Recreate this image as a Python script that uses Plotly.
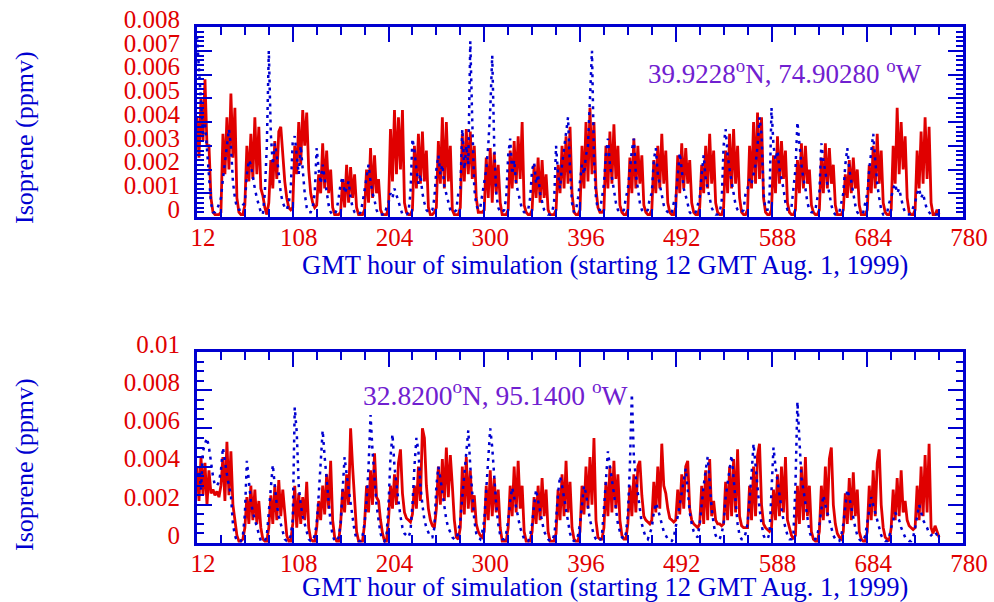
import plotly.graph_objects as go

# hours of simulation (2-hour sampling, 12 .. 756 GMT hour)
hours = list(range(12, 757, 2))

# ---- Station 1: 39.9228N, 74.90280W (ppmv) ----
red_top = [
    .0042, .0025, .0050, .0032, .0058, .0030, .0030, .0008, .0002, .0001, .0001, .0001,
    .0002, .0035, .0018, .0042, .0020, .0052, .0025, .0046, .0008, .0002, .0001, .0001,
    .0005, .0030, .0015, .0035, .0016, .0042, .0018, .0038, .0012, .0009, .0004, .0001,
    .0006, .0024, .0012, .0032, .0016, .0036, .0038, .0026, .0015, .0008, .0004, .0003,
    .0004, .0030, .0018, .0040, .0022, .0045, .0030, .0044, .0020, .0010, .0006, .0004,
    .0005, .0018, .0010, .0031, .0012, .0028, .0010, .0020, .0004, .0001, .0001, .0001,
    .0002, .0016, .0004, .0022, .0006, .0021, .0008, .0018, .0004, .0001, .0001, .0001,
    .0003, .0020, .0006, .0029, .0008, .0026, .0010, .0016, .0003, .0001, .0001, .0001,
    .0004, .0037, .0015, .0045, .0018, .0042, .0020, .0045, .0006, .0002, .0001, .0001,
    .0003, .0030, .0012, .0035, .0014, .0036, .0015, .0028, .0004, .0001, .0001, .0002,
    .0004, .0032, .0014, .0042, .0012, .0040, .0015, .0030, .0003, .0001, .0001, .0001,
    .0004, .0035, .0015, .0037, .0018, .0036, .0016, .0030, .0008, .0002, .0002, .0002,
    .0003, .0025, .0008, .0029, .0006, .0027, .0010, .0022, .0006, .0001, .0001, .0001,
    .0003, .0028, .0012, .0032, .0014, .0034, .0016, .0040, .0005, .0002, .0001, .0001,
    .0003, .0022, .0008, .0025, .0006, .0024, .0008, .0018, .0003, .0001, .0001, .0001,
    .0003, .0022, .0010, .0030, .0012, .0034, .0014, .0038, .0010, .0002, .0001, .0001,
    .0003, .0030, .0012, .0040, .0015, .0046, .0018, .0040, .0012, .0004, .0002, .0002,
    .0003, .0030, .0012, .0036, .0014, .0039, .0016, .0030, .0005, .0002, .0001, .0001,
    .0003, .0025, .0010, .0033, .0012, .0030, .0014, .0026, .0005, .0002, .0001, .0001,
    .0003, .0024, .0010, .0030, .0012, .0035, .0014, .0028, .0006, .0002, .0001, .0001,
    .0004, .0026, .0010, .0031, .0012, .0029, .0014, .0024, .0006, .0002, .0001, .0001,
    .0004, .0022, .0010, .0030, .0012, .0035, .0014, .0028, .0006, .0002, .0001, .0001,
    .0004, .0028, .0010, .0035, .0012, .0037, .0014, .0030, .0008, .0002, .0001, .0001,
    .0003, .0030, .0012, .0040, .0014, .0044, .0016, .0042, .0008, .0002, .0001, .0001,
    .0003, .0026, .0010, .0034, .0014, .0032, .0016, .0028, .0006, .0002, .0001, .0001,
    .0003, .0024, .0010, .0031, .0012, .0030, .0014, .0020, .0005, .0002, .0001, .0001,
    .0003, .0025, .0010, .0031, .0012, .0029, .0014, .0022, .0005, .0001, .0001, .0001,
    .0003, .0018, .0008, .0024, .0010, .0025, .0012, .0020, .0005, .0001, .0001, .0001,
    .0003, .0022, .0010, .0030, .0012, .0035, .0014, .0028, .0006, .0002, .0001, .0001,
    .0003, .0030, .0014, .0046, .0018, .0040, .0020, .0034, .0008, .0002, .0001, .0001,
    .0003, .0028, .0012, .0036, .0014, .0042, .0016, .0038, .0006, .0001, .0001, .0003,
    .0001,
]
blue_top = [
    .0076, .0062, .0048, .0035, .0040, .0028, .0018, .0006, .0002, .0002, .0003, .0006,
    .0008, .0016, .0024, .0030, .0037, .0030, .0015, .0008, .0004, .0003, .0003, .0005,
    .0006, .0018, .0024, .0022, .0016, .0012, .0008, .0005, .0002, .0001, .0010, .0030,
    .0070, .0035, .0022, .0031, .0026, .0018, .0010, .0006, .0004, .0003, .0006, .0012,
    .0032, .0034, .0025, .0018, .0030, .0020, .0010, .0004, .0002, .0002, .0004, .0010,
    .0029, .0020, .0014, .0022, .0016, .0010, .0005, .0002, .0001, .0001, .0003, .0008,
    .0014, .0017, .0010, .0012, .0015, .0008, .0004, .0002, .0001, .0001, .0002, .0006,
    .0012, .0018, .0022, .0015, .0010, .0007, .0003, .0001, .0001, .0001, .0001, .0004,
    .0006, .0010, .0008, .0012, .0009, .0006, .0003, .0001, .0001, .0001, .0002, .0010,
    .0033, .0028, .0020, .0014, .0018, .0010, .0006, .0003, .0002, .0002, .0003, .0008,
    .0020, .0026, .0018, .0022, .0013, .0010, .0006, .0003, .0002, .0002, .0003, .0010,
    .0012, .0037, .0020, .0030, .0022, .0074, .0040, .0012, .0005, .0003, .0004, .0010,
    .0014, .0020, .0030, .0045, .0068, .0030, .0010, .0004, .0002, .0002, .0003, .0008,
    .0026, .0033, .0018, .0024, .0014, .0010, .0006, .0003, .0002, .0002, .0003, .0008,
    .0020, .0023, .0014, .0018, .0010, .0006, .0003, .0002, .0001, .0001, .0002, .0006,
    .0030, .0018, .0012, .0022, .0028, .0035, .0042, .0020, .0006, .0002, .0003, .0008,
    .0015, .0022, .0018, .0026, .0030, .0050, .0070, .0025, .0008, .0003, .0003, .0008,
    .0014, .0026, .0033, .0022, .0016, .0012, .0006, .0003, .0002, .0002, .0003, .0008,
    .0012, .0020, .0028, .0033, .0018, .0012, .0006, .0003, .0002, .0002, .0003, .0008,
    .0010, .0024, .0029, .0018, .0014, .0010, .0005, .0003, .0002, .0001, .0002, .0006,
    .0008, .0016, .0027, .0020, .0012, .0009, .0005, .0002, .0001, .0001, .0002, .0005,
    .0008, .0018, .0026, .0016, .0012, .0008, .0004, .0002, .0001, .0001, .0002, .0006,
    .0030, .0037, .0026, .0020, .0014, .0010, .0005, .0003, .0002, .0002, .0003, .0010,
    .0012, .0016, .0014, .0018, .0022, .0030, .0042, .0035, .0010, .0003, .0003, .0008,
    .0046, .0030, .0024, .0028, .0020, .0016, .0012, .0006, .0003, .0003, .0004, .0012,
    .0020, .0040, .0030, .0022, .0016, .0012, .0006, .0003, .0002, .0002, .0003, .0008,
    .0010, .0031, .0024, .0018, .0014, .0010, .0005, .0002, .0001, .0001, .0002, .0006,
    .0010, .0022, .0029, .0020, .0014, .0010, .0005, .0002, .0001, .0001, .0002, .0006,
    .0010, .0020, .0028, .0035, .0024, .0014, .0008, .0003, .0001, .0001, .0002, .0006,
    .0008, .0012, .0014, .0010, .0012, .0008, .0004, .0002, .0001, .0001, .0002, .0004,
    .0006, .0010, .0012, .0008, .0010, .0006, .0003, .0002, .0001, .0001, .0001, .0001,
    .0001,
]

# ---- Station 2: 32.8200N, 95.1400W (ppmv) ----
red_bot = [
    .0040, .0022, .0045, .0025, .0042, .0020, .0038, .0026, .0028, .0025, .0027, .0024,
    .0030, .0045, .0022, .0053, .0025, .0048, .0020, .0012, .0004, .0001, .0001, .0002,
    .0008, .0024, .0010, .0030, .0012, .0028, .0010, .0022, .0008, .0002, .0001, .0001,
    .0008, .0025, .0010, .0030, .0012, .0033, .0014, .0028, .0014, .0004, .0001, .0001,
    .0010, .0030, .0008, .0026, .0010, .0024, .0012, .0032, .0008, .0002, .0001, .0001,
    .0008, .0022, .0012, .0030, .0015, .0036, .0018, .0043, .0012, .0003, .0001, .0001,
    .0010, .0028, .0016, .0036, .0020, .0060, .0040, .0022, .0006, .0001, .0001, .0001,
    .0010, .0030, .0016, .0038, .0020, .0047, .0024, .0022, .0012, .0005, .0001, .0001,
    .0012, .0030, .0018, .0036, .0020, .0042, .0049, .0026, .0016, .0013, .0012, .0011,
    .0015, .0030, .0018, .0040, .0022, .0060, .0055, .0030, .0018, .0012, .0009, .0008,
    .0018, .0040, .0020, .0044, .0022, .0050, .0024, .0046, .0030, .0012, .0003, .0002,
    .0008, .0040, .0015, .0045, .0018, .0038, .0016, .0025, .0010, .0006, .0004, .0003,
    .0006, .0030, .0012, .0038, .0014, .0034, .0016, .0028, .0008, .0001, .0001, .0001,
    .0008, .0030, .0014, .0040, .0016, .0043, .0018, .0030, .0006, .0001, .0001, .0001,
    .0006, .0024, .0010, .0030, .0012, .0034, .0014, .0028, .0006, .0001, .0001, .0001,
    .0005, .0028, .0012, .0036, .0014, .0043, .0016, .0032, .0008, .0002, .0001, .0001,
    .0006, .0030, .0015, .0040, .0018, .0045, .0020, .0055, .0012, .0003, .0002, .0002,
    .0008, .0032, .0014, .0040, .0016, .0043, .0018, .0036, .0012, .0004, .0002, .0002,
    .0010, .0030, .0014, .0036, .0016, .0040, .0043, .0025, .0014, .0012, .0011, .0010,
    .0012, .0032, .0016, .0040, .0018, .0052, .0030, .0026, .0018, .0013, .0012, .0011,
    .0012, .0028, .0015, .0036, .0018, .0040, .0043, .0018, .0012, .0010, .0009, .0008,
    .0010, .0030, .0010, .0038, .0012, .0044, .0014, .0022, .0012, .0010, .0010, .0009,
    .0010, .0032, .0012, .0040, .0014, .0044, .0016, .0049, .0014, .0009, .0008, .0008,
    .0008, .0030, .0012, .0040, .0014, .0046, .0052, .0020, .0010, .0008, .0007, .0006,
    .0008, .0028, .0012, .0036, .0014, .0040, .0016, .0045, .0012, .0008, .0004, .0002,
    .0004, .0030, .0010, .0040, .0012, .0045, .0014, .0030, .0006, .0002, .0001, .0001,
    .0006, .0030, .0012, .0040, .0014, .0044, .0050, .0020, .0010, .0005, .0003, .0002,
    .0006, .0026, .0010, .0034, .0012, .0037, .0014, .0028, .0006, .0002, .0001, .0001,
    .0006, .0030, .0012, .0038, .0014, .0042, .0049, .0020, .0008, .0003, .0002, .0001,
    .0008, .0028, .0012, .0034, .0014, .0038, .0016, .0022, .0012, .0009, .0008, .0007,
    .0008, .0030, .0012, .0040, .0014, .0046, .0016, .0052, .0008, .0005, .0009, .0006,
    .0003,
]
blue_bot = [
    .0035, .0040, .0028, .0048, .0052, .0055, .0050, .0042, .0035, .0030, .0030, .0032,
    .0038, .0050, .0042, .0036, .0030, .0025, .0010, .0004, .0001, .0001, .0001, .0004,
    .0015, .0043, .0032, .0022, .0016, .0012, .0008, .0004, .0001, .0001, .0001, .0004,
    .0015, .0028, .0041, .0030, .0020, .0014, .0010, .0005, .0002, .0001, .0001, .0004,
    .0012, .0071, .0058, .0030, .0020, .0014, .0010, .0006, .0002, .0001, .0001, .0004,
    .0010, .0025, .0042, .0059, .0045, .0032, .0020, .0010, .0004, .0001, .0001, .0003,
    .0010, .0030, .0045, .0036, .0028, .0020, .0012, .0006, .0002, .0001, .0001, .0004,
    .0010, .0022, .0040, .0067, .0048, .0032, .0020, .0012, .0005, .0002, .0001, .0004,
    .0020, .0045, .0057, .0040, .0030, .0022, .0014, .0008, .0005, .0004, .0003, .0006,
    .0020, .0040, .0055, .0048, .0030, .0020, .0012, .0008, .0005, .0003, .0003, .0008,
    .0030, .0040, .0034, .0026, .0018, .0012, .0008, .0005, .0003, .0002, .0002, .0006,
    .0012, .0024, .0036, .0046, .0059, .0040, .0024, .0012, .0005, .0003, .0002, .0006,
    .0012, .0028, .0046, .0060, .0050, .0034, .0020, .0010, .0004, .0002, .0002, .0005,
    .0012, .0022, .0029, .0024, .0018, .0012, .0008, .0005, .0002, .0001, .0001, .0004,
    .0010, .0020, .0028, .0022, .0016, .0010, .0006, .0004, .0002, .0001, .0001, .0004,
    .0012, .0026, .0035, .0030, .0024, .0016, .0010, .0005, .0002, .0001, .0001, .0004,
    .0010, .0022, .0030, .0026, .0018, .0012, .0008, .0004, .0002, .0001, .0001, .0004,
    .0018, .0032, .0048, .0040, .0034, .0026, .0018, .0010, .0006, .0003, .0002, .0005,
    .0015, .0040, .0078, .0045, .0034, .0026, .0016, .0010, .0006, .0003, .0002, .0005,
    .0008, .0016, .0021, .0018, .0014, .0010, .0006, .0004, .0002, .0001, .0001, .0003,
    .0008, .0014, .0020, .0026, .0032, .0039, .0028, .0016, .0010, .0006, .0004, .0003,
    .0010, .0022, .0030, .0038, .0045, .0032, .0018, .0010, .0004, .0002, .0002, .0005,
    .0010, .0024, .0032, .0040, .0046, .0034, .0020, .0010, .0004, .0002, .0002, .0005,
    .0010, .0022, .0036, .0052, .0040, .0030, .0018, .0010, .0004, .0002, .0002, .0005,
    .0030, .0050, .0040, .0032, .0026, .0018, .0012, .0008, .0004, .0002, .0002, .0005,
    .0030, .0074, .0052, .0034, .0028, .0020, .0012, .0006, .0003, .0002, .0002, .0004,
    .0010, .0018, .0025, .0020, .0016, .0012, .0008, .0004, .0002, .0001, .0001, .0004,
    .0010, .0020, .0028, .0024, .0018, .0012, .0008, .0004, .0002, .0001, .0001, .0004,
    .0010, .0018, .0024, .0020, .0016, .0012, .0008, .0004, .0002, .0001, .0001, .0003,
    .0008, .0012, .0016, .0014, .0012, .0008, .0005, .0003, .0002, .0001, .0001, .0003,
    .0008, .0014, .0020, .0016, .0012, .0010, .0008, .0005, .0004, .0005, .0006, .0004,
    .0003,
]

x_ticks = [12, 108, 204, 300, 396, 492, 588, 684, 780]
x_title = "GMT hour of simulation (starting 12 GMT Aug. 1, 1999)"
y_title = "Isoprene (ppmv)"
loc_top = "39.9228<sup>o</sup>N, 74.90280 <sup>o</sup>W"
loc_bot = "32.8200<sup>o</sup>N, 95.1400 <sup>o</sup>W"

RED = "#e00000"
BLUE = "#0000d0"
PURPLE = "#7020d0"
FONT = "Liberation Serif"
W, H = 994, 602

fig = go.Figure()
for ax, r, b in (("", red_top, blue_top), ("2", red_bot, blue_bot)):
    fig.add_trace(go.Scatter(x=hours, y=r, mode="lines", xaxis="x" + ax, yaxis="y" + ax,
                             line=dict(color=RED, width=2.8), showlegend=False))
    fig.add_trace(go.Scatter(x=hours, y=b, mode="lines", xaxis="x" + ax, yaxis="y" + ax,
                             line=dict(color=BLUE, width=2.5, dash="3px,5px"), showlegend=False))

xd = [197 / W, 963 / W]
common_x = dict(domain=xd, range=[12, 780], tickmode="array", tickvals=x_ticks,
                ticks="inside", ticklen=15, tickwidth=2, tickcolor=BLUE,
                showline=True, linewidth=3, linecolor=BLUE, mirror="ticks",
                showgrid=False, zeroline=False, automargin=False,
                minor=dict(dtick=24, tick0=12, ticks="inside", ticklen=8, tickwidth=2, tickcolor=BLUE),
                tickfont=dict(family=FONT, size=25, color=RED), ticklabelshift=6,
                ticklabelstandoff=-4)
common_y = dict(ticks="inside", ticklen=15, tickwidth=2, tickcolor=BLUE,
                showline=True, linewidth=3, linecolor=BLUE, mirror="ticks",
                showgrid=False, zeroline=False, automargin=False,
                tickfont=dict(family=FONT, size=25, color=RED), ticklabelshift=-8,
                ticklabelstandoff=9)

fig.update_layout(
    width=W, height=H, margin=dict(l=0, r=0, t=0, b=0, autoexpand=False),
    paper_bgcolor="white", plot_bgcolor="white",
    xaxis=dict(common_x, anchor="y"),
    yaxis=dict(common_y, domain=[1 - 217 / H, 1 - 27 / H], range=[0, 0.008], dtick=0.001, tick0=0,
               minor=dict(dtick=0.0002, ticks="inside", ticklen=7, tickwidth=2, tickcolor=BLUE),
               anchor="x"),
    xaxis2=dict(common_x, anchor="y2"),
    yaxis2=dict(common_y, domain=[1 - 543 / H, 1 - 352 / H], range=[0, 0.01], dtick=0.002, tick0=0,
                minor=dict(dtick=0.0005, ticks="inside", ticklen=7, tickwidth=2, tickcolor=BLUE),
                anchor="x2"),
)

ann = []
for yc in (265, 587):
    ann.append(dict(text=x_title, x=605 / W, y=1 - yc / H, xref="paper", yref="paper",
                    showarrow=False, xanchor="center", yanchor="middle",
                    font=dict(family=FONT, size=26.5, color=BLUE)))
for yc in (138, 465):
    ann.append(dict(text=y_title, x=24 / W, y=1 - yc / H, xref="paper", yref="paper",
                    showarrow=False, textangle=-90, xanchor="center", yanchor="middle",
                    font=dict(family=FONT, size=26, color=BLUE)))
ann.append(dict(text=loc_top, x=646 / W, y=1 - 72 / H, xref="paper", yref="paper",
                showarrow=False, xanchor="left", yanchor="middle",
                font=dict(family=FONT, size=27, color=PURPLE)))
ann.append(dict(text=loc_bot, x=361 / W, y=1 - 393 / H, xref="paper", yref="paper",
                showarrow=False, xanchor="left", yanchor="middle",
                font=dict(family=FONT, size=27.5, color=PURPLE)))
fig.update_layout(annotations=ann)

fig.write_html("out.html")
